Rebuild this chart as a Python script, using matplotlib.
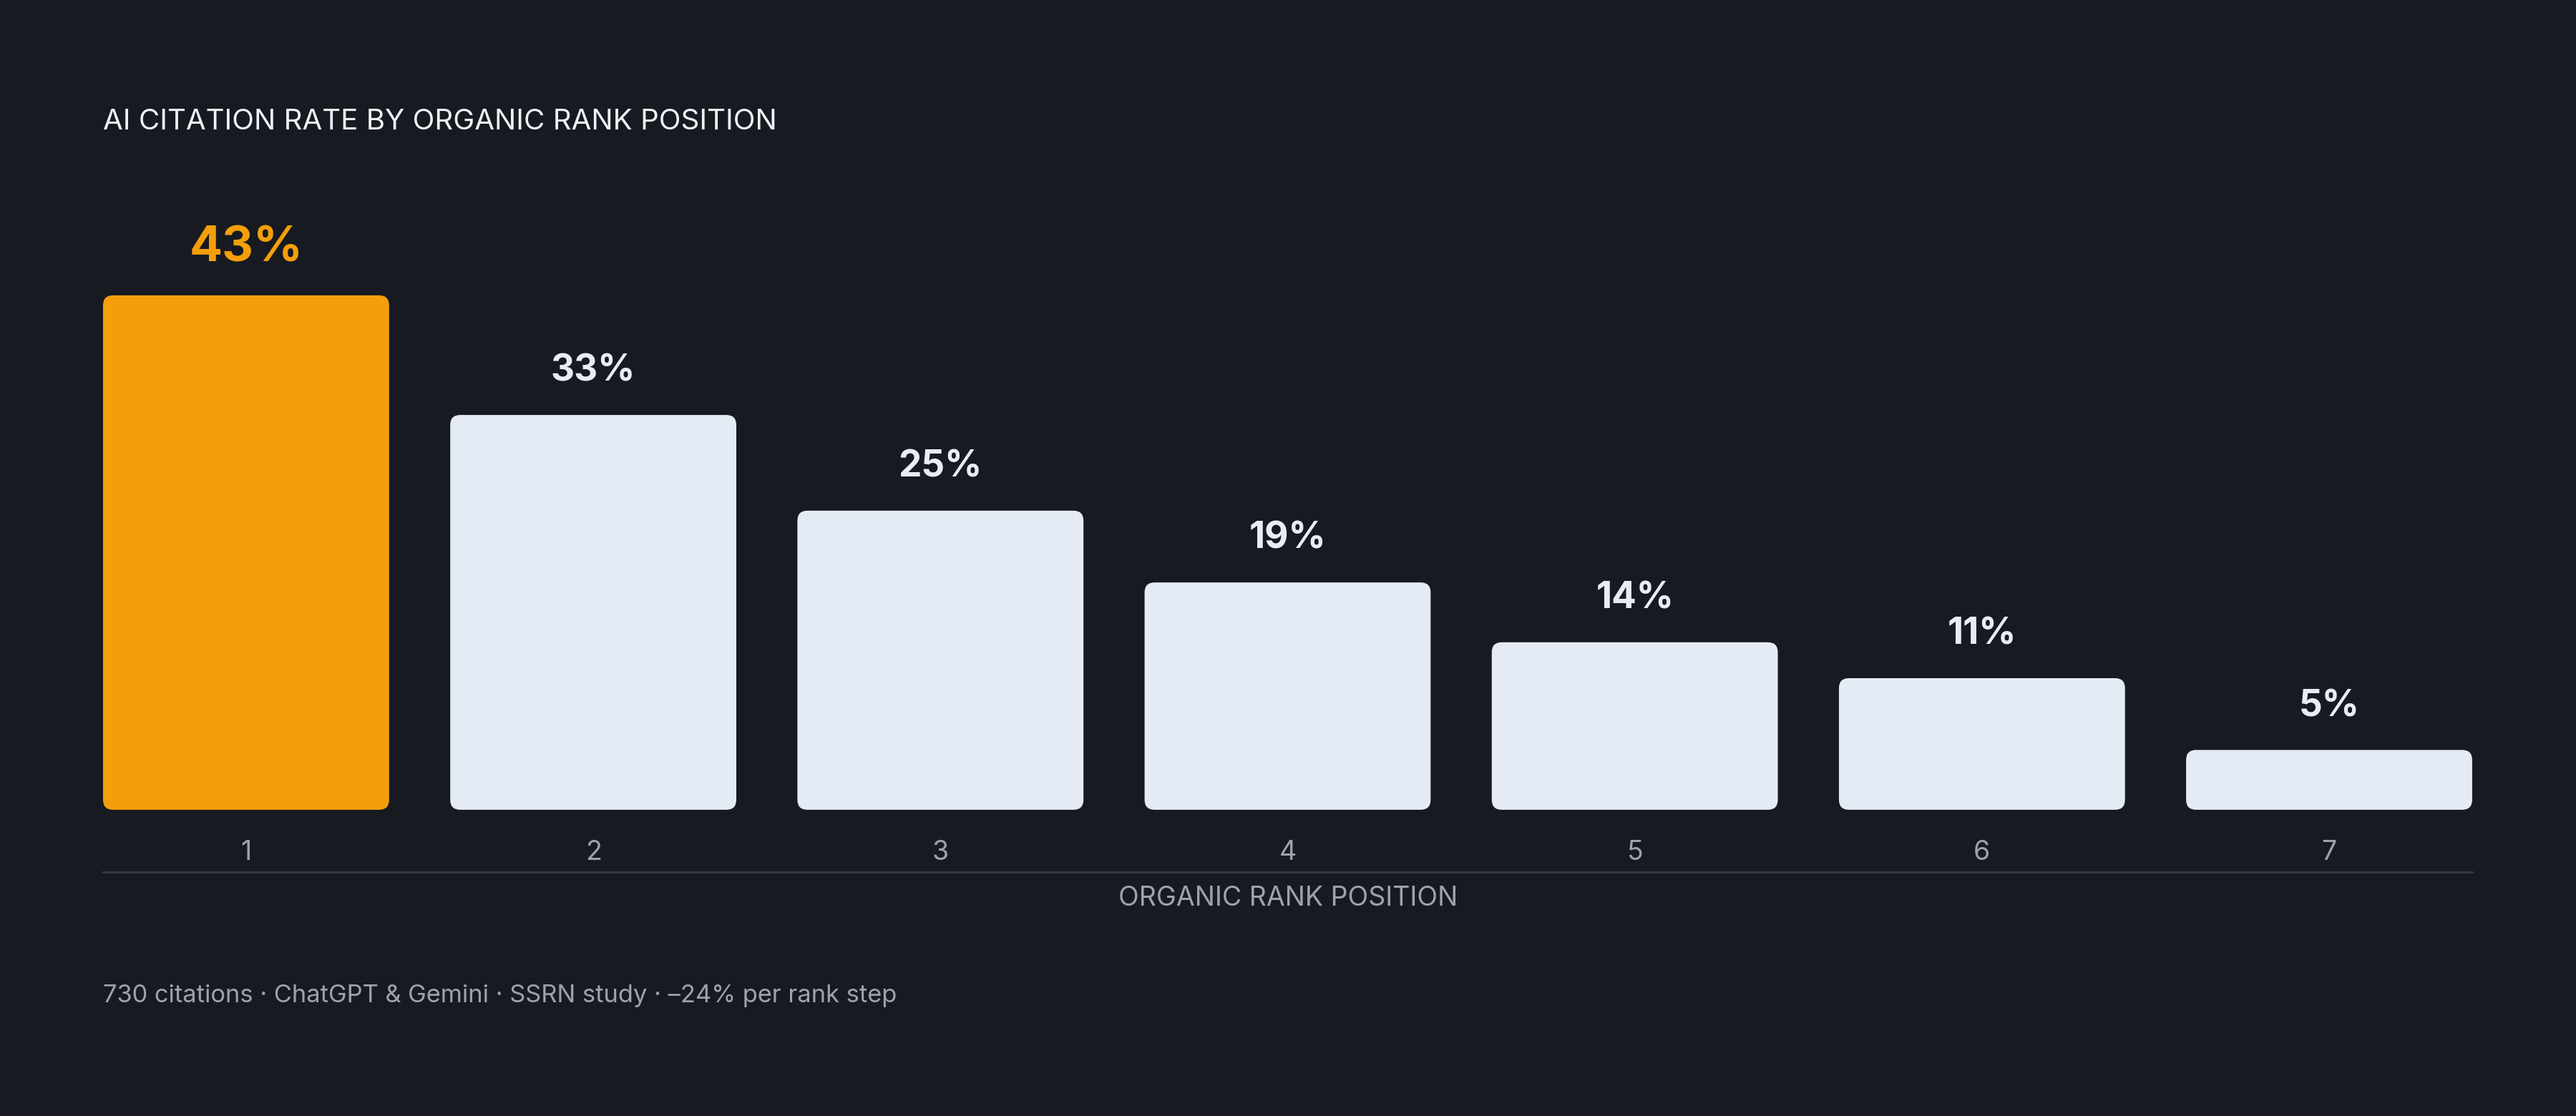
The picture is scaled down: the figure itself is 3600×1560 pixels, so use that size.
import matplotlib.pyplot as plt
from matplotlib.patches import FancyBboxPatch
from matplotlib.lines import Line2D

# 数据
ranks = ['1', '2', '3', '4', '5', '6', '7']
rates = [43, 33, 25, 19, 14, 11, 5]
highlight = 0

# 颜色
bg = '#171a21'
orange = '#f59e0b'
light = '#e5ebf4'
muted = '#9ca3af'
rule = '#353941'

plt.rcParams['font.family'] = ['Inter', 'DejaVu Sans']

fig = plt.figure(figsize=(36, 15.6), dpi=100, facecolor=bg)
ax = fig.add_axes([0.04, 0.2744, 0.9197, 0.536])
ax.set_facecolor(bg)

x = list(range(len(ranks)))
width = 0.824
bars = ax.bar(x, rates, width=width, color=light)
ax.set_xlim(-0.412, len(ranks) - 1 + 0.412)
ax.set_ylim(0, 50)

# 圆角柱子: 用 FancyBboxPatch 替换
fig.canvas.draw()
bbox = ax.get_window_extent()
px_x = bbox.width / (ax.get_xlim()[1] - ax.get_xlim()[0])
px_y = bbox.height / (ax.get_ylim()[1] - ax.get_ylim()[0])
r_px = 14
for i, b in enumerate(bars):
    b.set_visible(False)
    color = orange if i == highlight else light
    p = FancyBboxPatch((b.get_x(), 0), b.get_width(), b.get_height(),
                       boxstyle=f'round,pad=0,rounding_size={r_px / px_x}',
                       mutation_aspect=px_x / px_y,
                       facecolor=color, edgecolor='none')
    ax.add_patch(p)
    # 数值标签
    big = i == highlight
    ax.annotate(f'{rates[i]}%', (b.get_x() + b.get_width() / 2, b.get_height()),
                xytext=(0, 34), textcoords='offset points',
                ha='center', va='baseline',
                fontsize=49 if big else 37, fontweight='bold',
                color=orange if big else '#e8edf5')

ax.set_xticks(x)
ax.set_xticklabels(ranks, fontsize=27, color=muted)
ax.tick_params(axis='x', length=0, pad=30)
ax.set_yticks([])
for s in ax.spines.values():
    s.set_visible(False)

# 分隔线
fig.add_artist(Line2D([0.04, 0.9597], [0.2186, 0.2186], color=rule, lw=2.2))

fig.text(0.04, 0.891, 'AI CITATION RATE BY ORGANIC RANK POSITION',
         fontsize=29, color='#eef2f7', va='center', ha='left')
fig.text(0.5, 0.1949, 'ORGANIC RANK POSITION', fontsize=27, color=muted,
         va='center', ha='center')
fig.text(0.04, 0.108,
         '730 citations · ChatGPT & Gemini · SSRN study · \u201324% per rank step',
         fontsize=24.8, color=muted, va='center', ha='left')

plt.savefig('out.png', dpi=100, facecolor=bg)
